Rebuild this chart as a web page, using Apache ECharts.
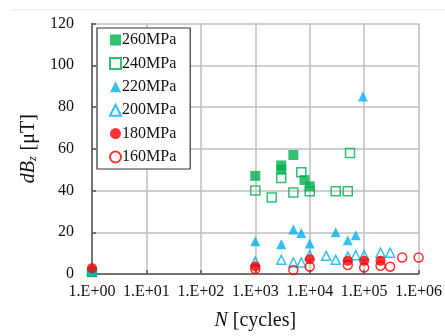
<!DOCTYPE html>
<html><head><meta charset="utf-8">
<script src="https://cdn.jsdelivr.net/npm/echarts@6/dist/echarts.min.js"></script>
<style>html,body{margin:0;padding:0;background:#fff}#c{width:445px;height:336px}</style>
</head><body><div id="c"></div>
<script>
const xTicks = [1, 10, 100, 1000, 10000, 100000, 1000000];
const yTicks = [0, 20, 40, 60, 80, 100, 120];
const s260 = [[1,1],[1000,47],[3000,52],[3000,50],[5000,57],[8000,45],[10000,42]];
const s240 = [[1,1],[1000,40],[2000,36.7],[3000,46],[5000,39],[7000,48.8],[10000,39.7],[30000,39.7],[50000,39.7],[55000,58]];
const s220 = [[1,3],[1000,15.7],[3000,14.2],[5000,21.3],[7000,19.7],[10000,14.6],[30000,20],[50000,16.2],[70000,18.6],[95000,85]];
const s200 = [[1,2],[1000,6],[3000,6.8],[5000,5.5],[7000,5.5],[10000,9],[20000,8.7],[30000,6.8],[50000,8.3],[70000,9],[100000,9],[200000,10.2],[300000,10.2]];
const s180 = [[1,2.8],[1000,3.6],[10000,7.1],[50000,6.3],[100000,6.3],[200000,6.3]];
const s160 = [[1000,2.4],[5000,1.9],[10000,3.5],[50000,4.3],[100000,3.1],[200000,3.9],[300000,3.5],[500000,7.9],[1000000,7.9]];
const names = ['260MPa','240MPa','220MPa','200MPa','180MPa','160MPa'];

const GREEN='#00B050', BLUE='#00B0F0', RED='#FF0000';
const font = '"Liberation Serif", "Times New Roman", serif';
function ser(name, data, symbol, color, filled, size){
  return {name, type:'scatter', data, symbol, symbolSize:size,
    itemStyle: filled ? {color, borderColor:color, borderWidth:0} : {color:'rgba(255,255,255,0)', borderColor:color, borderWidth:1.5},
    emphasis:{disabled:true}};
}
const chart = echarts.init(document.getElementById('c'), null, {renderer:'canvas'});
chart.setOption({
  animation:false,
  textStyle:{fontFamily:font},
  grid:{left:92, right:25, top:23.5, bottom:59, containLabel:false},
  graphic:[{type:'line', shape:{x1:12,y1:10,x2:445,y2:10}, style:{stroke:'#e6e6e6', lineWidth:1}, z:-1}],
  legend:{
    orient:'vertical', left:97, top:28,
    backgroundColor:'#fff', borderColor:'#333', borderWidth:1.2,
    padding:[4,14,4,12], itemGap:7.4, itemWidth:11, itemHeight:11,
    textStyle:{fontFamily:font, fontSize:16, color:'#111', padding:[0,0,0,-4]},
    data: names
  },
  xAxis:{
    type:'log', logBase:10, min:1, max:1000000,
    name:'{i|N} [cycles]', nameLocation:'middle', nameGap:37,
    nameTextStyle:{fontFamily:font, fontSize:20, color:'#111', rich:{i:{fontStyle:'italic', fontFamily:font, fontSize:20, color:'#111'}}},
    axisLine:{lineStyle:{color:'#555', width:1.5}},
    axisTick:{inside:true, length:4, lineStyle:{color:'#555', width:1.5}},
    minorTick:{show:false},
    axisLabel:{fontFamily:font, fontSize:16, color:'#111', margin:10,
      formatter: v => { const e = Math.round(Math.log10(v)); return '1.E+' + (e<10?'0':'') + e; }},
    splitLine:{show:true, lineStyle:{color:'#bfbfbf', width:1.5}}
  },
  yAxis:{
    type:'value', min:0, max:120, interval:20,
    name:'{i|dB}{s|z} [μT]', nameLocation:'middle', nameGap:52, nameRotate:90,
    nameTextStyle:{fontFamily:font, fontSize:20, color:'#111',
      rich:{i:{fontStyle:'italic', fontFamily:font, fontSize:20, color:'#111'},
            s:{fontStyle:'italic', fontFamily:font, fontSize:12, color:'#111', verticalAlign:'bottom', padding:[8,1,0,0]}}},
    axisLine:{show:true, lineStyle:{color:'#555', width:1.5}},
    axisTick:{show:true, inside:true, length:4, lineStyle:{color:'#555', width:1.5}},
    axisLabel:{fontFamily:font, fontSize:16, color:'#111', margin:18},
    splitLine:{show:true, lineStyle:{color:'#bfbfbf', width:1.5}}
  },
  series:[
    ser(names[0], s260, 'rect', GREEN, true, 10),
    ser(names[1], s240, 'rect', GREEN, false, 9),
    ser(names[2], s220, 'triangle', BLUE, true, 10),
    ser(names[3], s200, 'triangle', BLUE, false, 9),
    ser(names[4], s180, 'circle', RED, true, 10),
    ser(names[5], s160, 'circle', RED, false, 9)
  ]
});
</script></body></html>
